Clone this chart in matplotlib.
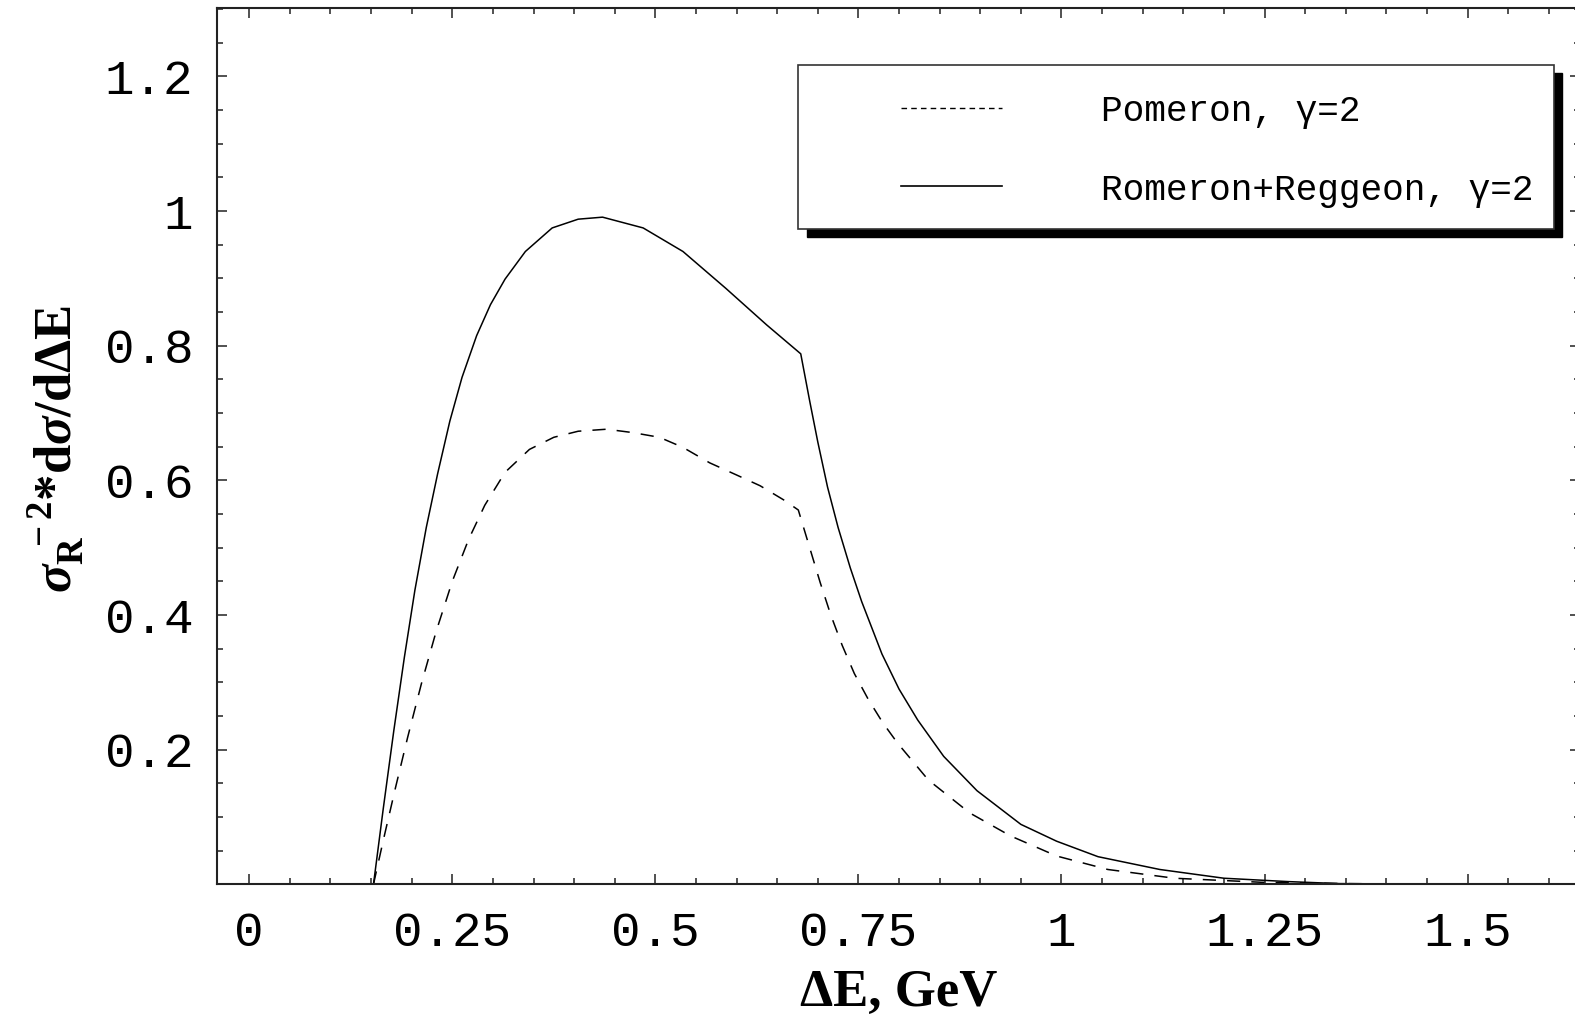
import matplotlib
matplotlib.use('Agg')
import matplotlib.pyplot as plt
from matplotlib.patches import Rectangle

# Pomeron + Reggeon (solid curve)
e_total = [0.153, 0.165, 0.178, 0.191, 0.204, 0.218, 0.232, 0.247, 0.262, 0.280,
           0.297, 0.315, 0.340, 0.373, 0.405, 0.435, 0.485, 0.534, 0.587, 0.637,
           0.679, 0.690, 0.700, 0.712, 0.725, 0.740, 0.754, 0.779, 0.800, 0.823,
           0.855, 0.896, 0.950, 0.994, 1.045, 1.121, 1.200, 1.279, 1.342, 1.478]
s_total = [0.0, 0.112, 0.228, 0.337, 0.437, 0.530, 0.610, 0.688, 0.753, 0.815,
           0.861, 0.899, 0.940, 0.975, 0.988, 0.991, 0.975, 0.940, 0.885, 0.831,
           0.788, 0.718, 0.657, 0.590, 0.530, 0.470, 0.420, 0.342, 0.290, 0.244,
           0.190, 0.139, 0.089, 0.064, 0.041, 0.022, 0.009, 0.004, 0.001, 0.0]

# Pomeron only (dashed curve)
e_pom = [0.153, 0.165, 0.180, 0.195, 0.212, 0.230, 0.250, 0.270, 0.290, 0.315,
         0.345, 0.375, 0.405, 0.440, 0.472, 0.505, 0.534, 0.567, 0.600, 0.629,
         0.658, 0.676, 0.690, 0.703, 0.716, 0.730, 0.745, 0.762, 0.780, 0.798,
         0.836, 0.887, 0.937, 0.994, 1.057, 1.139, 1.246, 1.350, 1.478]
s_pom = [0.0, 0.065, 0.143, 0.218, 0.298, 0.375, 0.450, 0.512, 0.563, 0.612,
         0.646, 0.664, 0.673, 0.676, 0.671, 0.664, 0.649, 0.626, 0.608, 0.592,
         0.571, 0.556, 0.500, 0.448, 0.400, 0.355, 0.313, 0.275, 0.240, 0.210,
         0.155, 0.106, 0.072, 0.042, 0.022, 0.009, 0.003, 0.001, 0.0]

x_ticks = [0, 0.25, 0.5, 0.75, 1, 1.25, 1.5]
x_labels = ['0', '0.25', '0.5', '0.75', '1', '1.25', '1.5']
y_ticks = [0.2, 0.4, 0.6, 0.8, 1.0, 1.2]
y_labels = ['0.2', '0.4', '0.6', '0.8', '1', '1.2']
legend_labels = ['Pomeron, \u03b3=2', 'Romeron+Reggeon, \u03b3=2']

plt.rcParams['mathtext.fontset'] = 'custom'
plt.rcParams['mathtext.rm'] = 'Liberation Serif:bold'
plt.rcParams['mathtext.it'] = 'Liberation Serif:italic:bold'
plt.rcParams['mathtext.bf'] = 'Liberation Serif:bold'
plt.rcParams['lines.scale_dashes'] = False

fig = plt.figure(figsize=(15.75, 10.21), dpi=100)
ax = fig.add_axes([0.1378, 0.1339, 1.003 - 0.1378, 0.9921 - 0.1339])

ax.plot(e_pom, s_pom, color='black', lw=1.1, dashes=(9.5, 8))
ax.plot(e_total, s_total, color='black', lw=1.1)

ax.set_xlim(-0.0396, 1.638)
ax.set_ylim(0, 1.3016)

ax.set_xticks(x_ticks)
ax.set_xticklabels(x_labels)
ax.set_xticks([i * 0.05 for i in range(0, 33)], minor=True)
ax.set_yticks(y_ticks)
ax.set_yticklabels(y_labels)
ax.set_yticks([i * 0.05 for i in range(0, 27)], minor=True)

ax.tick_params(which='both', direction='in', top=True, right=True,
               width=1.1, color='#222222')
ax.tick_params(which='major', length=7)
ax.tick_params(which='minor', length=4.5)
ax.tick_params(axis='x', which='major', pad=19)
ax.tick_params(axis='y', which='major', pad=17)
for lab in ax.get_xticklabels() + ax.get_yticklabels():
    lab.set_fontfamily('Liberation Mono')
    lab.set_fontsize(35.5)

for sp in ax.spines.values():
    sp.set_linewidth(1.5)
    sp.set_color('#222222')

ax.set_xlabel('\u0394E, GeV', fontfamily='Liberation Serif', fontweight='bold',
              fontsize=38, va='center')
ax.xaxis.set_label_coords(0.5004, -0.1239)
ax.set_ylabel(r'$\sigma_{\mathrm{R}}^{\ -2}$*d$\sigma$/d$\Delta$E',
              fontfamily='Liberation Serif', fontweight='bold', fontsize=38,
              va='center')
ax.yaxis.set_label_coords(-0.1186, 0.4966)

# legend box drawn by hand, with a solid black shadow
lx0, lx1, ly0, ly1 = 0.4267, 0.9808, 0.7477, 0.9346
ox, oy = 0.0059, 0.0092
ax.add_patch(Rectangle((lx0 + ox, ly0 - oy), lx1 - lx0, ly1 - ly0,
                       transform=ax.transAxes, facecolor='black',
                       edgecolor='black', zorder=5, clip_on=False))
ax.add_patch(Rectangle((lx0, ly0), lx1 - lx0, ly1 - ly0,
                       transform=ax.transAxes, facecolor='white',
                       edgecolor='#333333', lw=1.2, zorder=6, clip_on=False))
ax.plot([0.5018, 0.5763], [0.8865, 0.8865], transform=ax.transAxes,
        color='black', lw=1.0, dashes=(4, 3), zorder=7)
ax.plot([0.5018, 0.5763], [0.7970, 0.7970], transform=ax.transAxes,
        color='black', lw=1.2, zorder=7)
ax.text(0.6485, 0.8815, legend_labels[0], transform=ax.transAxes,
        fontfamily=['Liberation Mono', 'DejaVu Sans'], fontsize=26,
        va='center', ha='left', zorder=8)
ax.text(0.6485, 0.7920, legend_labels[1], transform=ax.transAxes,
        fontfamily=['Liberation Mono', 'DejaVu Sans'], fontsize=26,
        va='center', ha='left', zorder=8)

fig.savefig('out.png', dpi=100)
